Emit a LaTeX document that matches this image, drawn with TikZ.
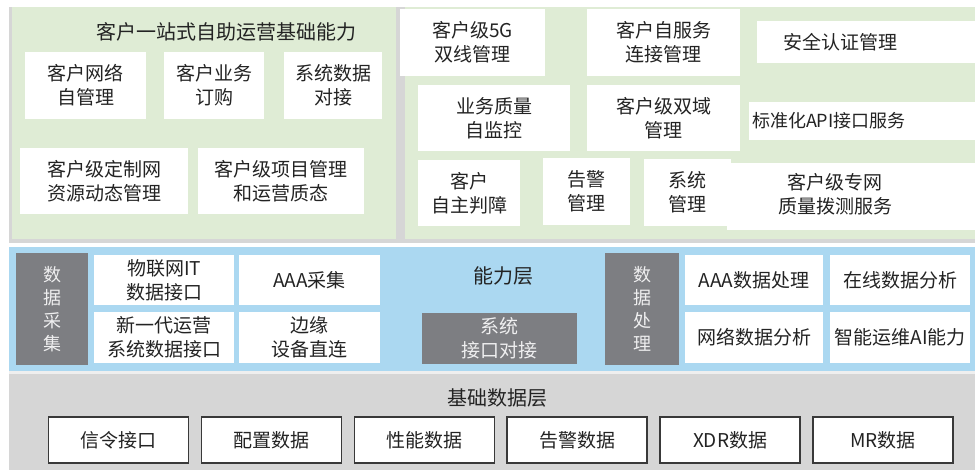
\documentclass[tikz,border=0pt]{standalone}
\usepackage{fontspec}
\setmainfont{Noto Sans CJK SC}
\usepackage{tikz}
\definecolor{greenbg}{RGB}{223,236,213}
\definecolor{bluebg}{RGB}{171,216,241}
\definecolor{graybg}{RGB}{214,214,214}
\definecolor{darkbox}{RGB}{125,126,130}
\definecolor{ink}{RGB}{35,35,35}
% white cell from (x1,y1) to (x2,y2), in pixels from the top left
\newcommand{\cell}[7][wbox]{\node[#1, minimum width={#5pt-#3pt}, minimum height={#6pt-#4pt}] (#2) at ({(#3+#5)/2},{(#4+#6)/2}) {#7};}
\tikzset{
  wbox/.style={fill=white, inner sep=0pt, outer sep=0pt, align=center, text=ink, font=\fontsize{19}{24}\selectfont},
  dbox/.style={wbox, fill=darkbox, text=white!88!darkbox, font=\fontsize{18}{23}\selectfont},
  bbox/.style={wbox, draw=ink!90, line width=1.5pt},
  lbl/.style={inner sep=0pt, text=ink, font=\fontsize{20}{24}\selectfont}
}

\begin{document}
\begin{tikzpicture}[x=1pt,y=-1pt]
\useasboundingbox (0,0) rectangle (975,470);
% layers
\fill[graybg] (9,7) rectangle (975,470);
\fill[greenbg] (12,7) rectangle (396,239);
\fill[greenbg] (405,7) rectangle (975,239);
\fill[white] (9,243) rectangle (975,247);
\fill[bluebg] (9,247) rectangle (975,371);
\fill[white!60!graybg] (9,371) rectangle (975,374);

% self service, left
\node[lbl] (title) at (226,32) {客户一站式自助运营基础能力};
\cell{khwl}{25}{52}{146}{119}{客户网络\\自管理}
\cell{khyw}{164}{52}{264}{119}{客户业务\\订购}
\cell{xtsj}{284}{52}{382}{119}{系统数据\\对接}
\cell{dzw}{20}{148}{188}{214}{客户级定制网\\资源动态管理}
\cell{xmgl}{198}{148}{364}{214}{客户级项目管理\\和运营质态}

% self service, right
\cell{sx}{400}{9}{545}{76}{客户级5G\\双线管理}
\cell{zfw}{587}{9}{740}{76}{客户自服务\\连接管理}
\cell[wbox, align=left, text width=166pt, inner xsep=26pt]{aqrz}{757}{21}{975}{63}{安全认证管理}
\cell{ywzl}{418}{85}{570}{151}{业务质量\\自监控}
\cell{sy}{587}{85}{740}{151}{客户级双域\\管理}
\cell[wbox, align=left, text width=220pt, inner xsep=3pt, font=\fontsize{18}{22}\selectfont]{api}{749}{102}{975}{140}{标准化API接口服务}
\cell{pz}{418}{160}{520}{226}{客户\\自主判障}
\cell{gj}{543}{158}{630}{225}{告警\\管理}
\cell{xtgl}{644}{159}{731}{226}{系统\\管理}
\cell[wbox, align=left, text width=146pt, inner xsep=51pt]{bc}{727}{163}{975}{230}{\begin{tabular}{@{}c@{}}客户级专网\\质量拨测服务\end{tabular}}

% capability layer
\cell[dbox]{cj}{16}{253}{88}{365}{数\\据\\采\\集}
\cell{wlw}{94}{255}{234}{305}{物联网IT\\数据接口}
\cell{aaa}{239}{255}{380}{305}{AAA采集}
\cell{xyd}{94}{312}{234}{363}{新一代运营\\系统数据接口}
\cell{by}{239}{312}{380}{363}{边缘\\设备直连}
\node[lbl] (nlc) at (503,276) {能力层};
\cell[dbox, font=\fontsize{19}{24}\selectfont]{jkdj}{422}{313}{577}{364}{系统\\接口对接}
\cell[dbox]{cl}{605}{253}{679}{365}{数\\据\\处\\理}
\cell{aaacl}{685}{255}{823}{305}{AAA数据处理}
\cell{zxfx}{830}{255}{970}{305}{在线数据分析}
\cell{wlfx}{685}{312}{823}{363}{网络数据分析}
\cell{znyw}{830}{312}{970}{363}{智能运维AI能力}

% base data layer
\node[lbl] (jcsj) at (497,398) {基础数据层};
\foreach \lab [count=\i] in {信令接口,配置数据,性能数据,告警数据,XDR数据,MR数据}{
  \pgfmathsetmacro{\xl}{48.5+(\i-1)*152.9}
  \pgfmathsetmacro{\xr}{\xl+140}
  \cell[bbox]{db\i}{\xl}{417}{\xr}{463}{\lab}
}
\end{tikzpicture}
\end{document}
